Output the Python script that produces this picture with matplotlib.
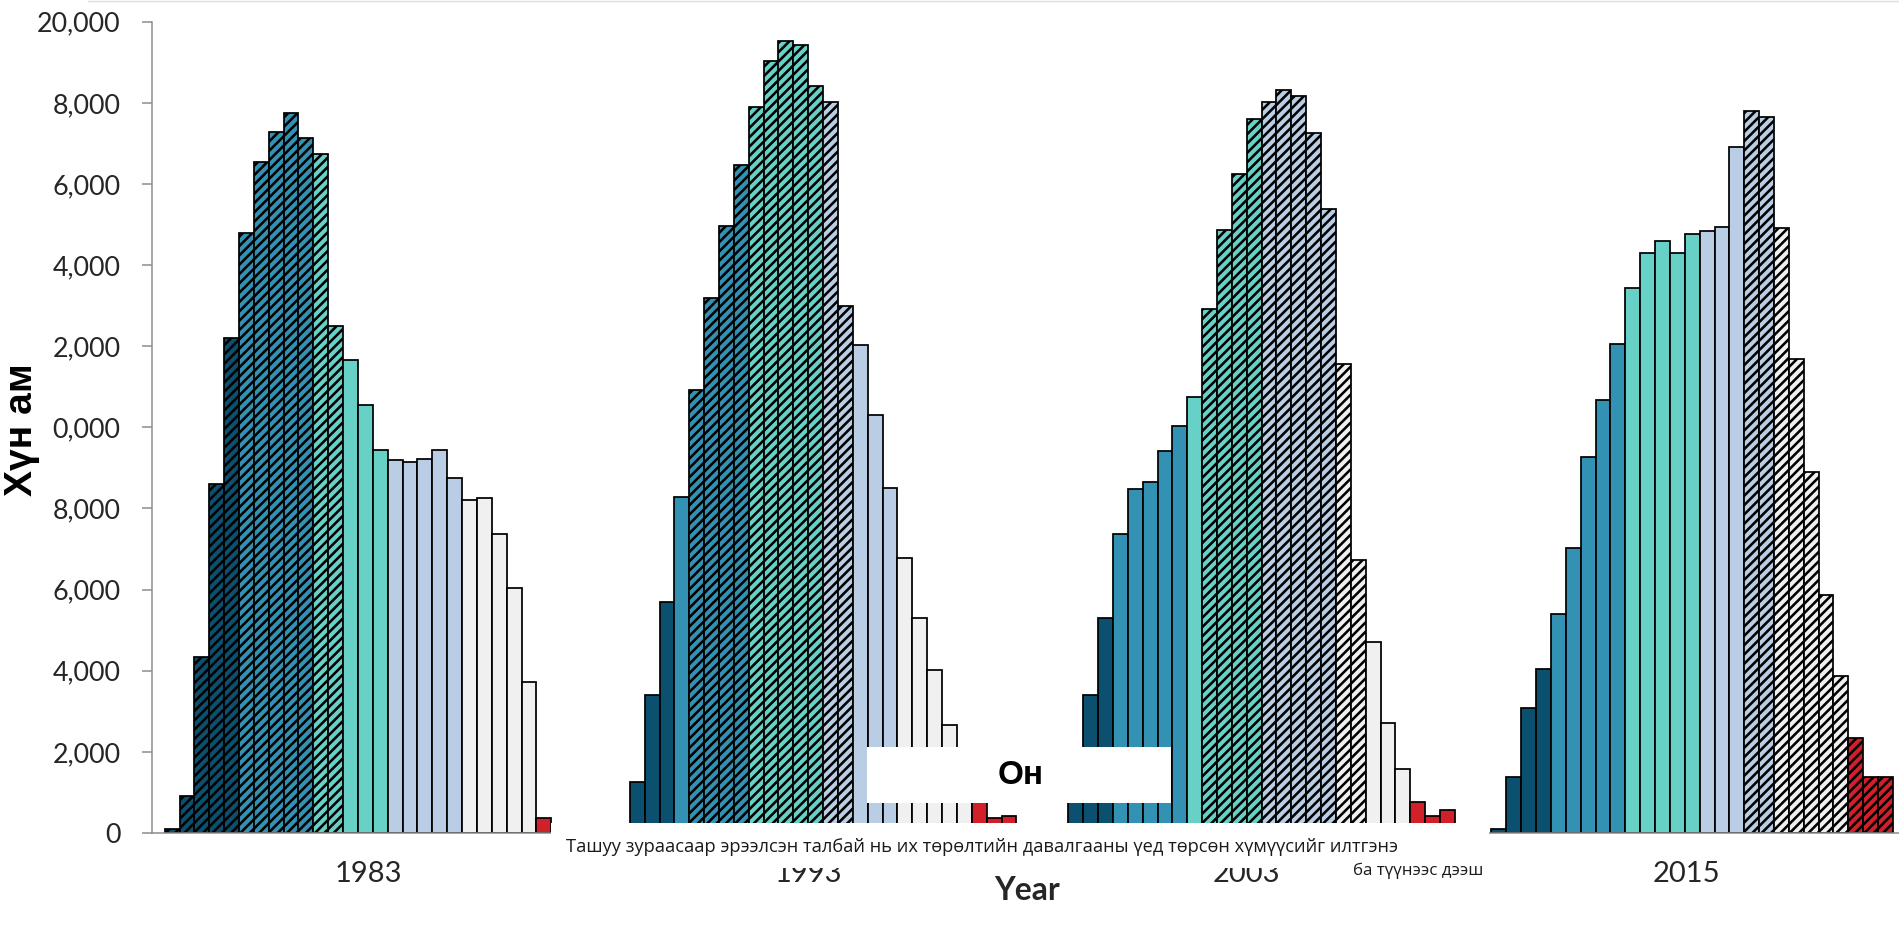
import matplotlib
matplotlib.use('Agg')
import matplotlib.pyplot as plt
from matplotlib.patches import Rectangle
from matplotlib.lines import Line2D
from matplotlib.transforms import blended_transform_factory

# ---------------- data ----------------
years = ['1983', '1993', '2003', '2015']

pop_1983 = [100, 900, 4350, 8600, 12200, 14800, 16550, 17270, 17740, 17130,
            16740, 12490, 11670, 10560, 9450, 9190, 9150, 9230, 9430, 8740,
            8220, 8270, 7360, 6030, 3730, 360]
pop_1993 = [1250, 3400, 5690, 8280, 10910, 13180, 14965, 16470, 17890, 19030,
            19520, 19420, 18410, 18030, 13000, 12040, 10310, 8500, 6790, 5300,
            4030, 2670, 1550, 850, 365, 430]
pop_2003 = [1400, 3400, 5300, 7370, 8470, 8650, 9420, 10030, 10750, 12910,
            14870, 16250, 17590, 18010, 18320, 18160, 17260, 15390, 11570, 6740,
            4710, 2700, 1570, 756, 420, 567]
pop_2015 = [90, 1390, 3070, 4055, 5395, 7030, 9270, 10665, 12045, 13440,
            14305, 14585, 14305, 14765, 14840, 14945, 16915, 17790, 17645, 14920,
            11675, 8890, 5875, 3860, 2340, 1385, 1385]

# number of consecutive bars in each colour band (cohort groups)
bands_1983 = [5, 5, 5, 5, 5, 1]
bands_1993 = [3, 5, 5, 5, 5, 3]
bands_2003 = [3, 5, 5, 5, 5, 3]
bands_2015 = [4, 5, 5, 5, 5, 3]

# index range (inclusive) of bars born during the baby-boom wave (hatched)
boom_1983 = (0, 11)
boom_1993 = (4, 14)
boom_2003 = (9, 19)
boom_2015 = (17, 26)

ytick_values = [0, 2000, 4000, 6000, 8000, 10000, 12000, 14000, 16000, 18000, 20000]
ytick_labels = ['0', '2,000', '4,000', '6,000', '8,000', '0,000',
                '2,000', '4,000', '6,000', '8,000', '20,000']

ylabel = 'Хүн ам'
xlabel = 'Year'
box_label = 'Он'
note_line1 = 'Ташуу зураасаар эрээлсэн талбай нь их төрөлтийн давалгааны үед төрсөн хүмүүсийг илтгэнэ'
note_line2 = 'ба түүнээс дээш'

# ---------------- style / layout ----------------
band_colors = ['#0c5070', '#3391b4', '#67d0c7', '#b9cde4', '#f0f0f0', '#d2202b']
group_start = [0.85, 32.13, 61.62, 90.08]     # slot units
label_shift = [0.7, -1.0, -1.0, -0.4]

plt.rcParams['hatch.linewidth'] = 2.2
plt.rcParams['hatch.color'] = 'black'

W, H, DPI = 1899, 935, 84
fig = plt.figure(figsize=(W / DPI, H / DPI), dpi=DPI)
fig.patch.set_facecolor('white')


def fx(px):
    return px / W


def fy(py):
    return 1 - py / H


pitch_px = 14.87
ax = fig.add_axes([fx(152), fy(833), fx(1899) - fx(152), fy(21.7) - fy(833)])
ax.set_xlim(0, (1899 - 152) / pitch_px)
ax.set_ylim(0, 20000)
ax.set_facecolor('none')

series = [pop_1983, pop_1993, pop_2003, pop_2015]
bands = [bands_1983, bands_1993, bands_2003, bands_2015]
booms = [boom_1983, boom_1993, boom_2003, boom_2015]

for vals, bnd, boom, start in zip(series, bands, booms, group_start):
    cols = []
    for c, n in zip(band_colors, bnd):
        cols += [c] * n
    xs = [start + i for i in range(len(vals))]
    bars = ax.bar(xs, vals, width=1.0, align='edge', color=cols,
                  edgecolor='black', linewidth=1.5, zorder=2)
    for i, b in enumerate(bars):
        if boom[0] <= i <= boom[1]:
            b.set_hatch('///')

for s in ['top', 'right']:
    ax.spines[s].set_visible(False)
for s in ['left', 'bottom']:
    ax.spines[s].set_color('#8c8c8c')
    ax.spines[s].set_linewidth(1.3)

ax.set_xticks([])
ax.set_yticks(ytick_values)
ax.set_yticklabels(ytick_labels, family='Lato')
ax.tick_params(axis='y', length=8.6, width=1.3, color='#8c8c8c', pad=18.5,
               labelsize=23, labelcolor='#262626')

# year labels under each group
btrans = blended_transform_factory(ax.transData, fig.transFigure)
for yr, vals, start, sh in zip(years, series, group_start, label_shift):
    ax.text(start + len(vals) / 2 + sh, fy(882), yr, transform=btrans,
            ha='center', va='baseline', fontsize=25, family='Lato', color='#262626')

# axis titles
t_ylab = fig.text(fx(22), fy(430), ylabel, rotation=90, ha='center', va='center',
                  family='Liberation Sans', fontweight='bold', fontsize=26, color='black')
t_xlab = fig.text(fx(1027), fy(890), xlabel, ha='center', va='center',
                  family='Lato', fontweight='bold', fontsize=24, color='#262626')

# white overlay boxes with annotation texts
fig.add_artist(Rectangle((fx(551), fy(868)), fx(1489) - fx(551), fy(822.5) - fy(868),
                         transform=fig.transFigure, facecolor='white',
                         edgecolor='none', zorder=5))
fig.add_artist(Rectangle((fx(867), fy(803)), fx(1171) - fx(867), fy(747) - fy(803),
                         transform=fig.transFigure, facecolor='white',
                         edgecolor='none', zorder=5))
t_on = fig.text(fx(1021), fy(776), box_label, ha='center', va='center',
                family='Liberation Sans', fontweight='bold', fontsize=24,
                color='black', zorder=6)
t_note1 = fig.text(fx(566), fy(847), note_line1, ha='left', va='center',
                   family='Open Sans', fontsize=14, color='#1a1a1a', zorder=6)
t_note2 = fig.text(fx(1418), fy(871), note_line2, ha='center', va='center',
                   family='Open Sans', fontsize=14, color='#1a1a1a', zorder=6)

fig.add_artist(Line2D([fx(88), 1.0], [fy(0.8), fy(0.8)], transform=fig.transFigure,
                      color='#dcdcdc', linewidth=1.2, zorder=6))

# fit text sizes to the measured widths of the reference
fig.canvas.draw()
r = fig.canvas.get_renderer()
for t, target, use_h in [(t_note1, 831, False), (t_note2, 130, False),
                         (t_xlab, 66, False), (t_on, 46, False), (t_ylab, 133, True)]:
    bb = t.get_window_extent(r)
    cur = bb.height if use_h else bb.width
    t.set_fontsize(t.get_fontsize() * target / cur)

fig.savefig('out.png', dpi=DPI, facecolor='white')
